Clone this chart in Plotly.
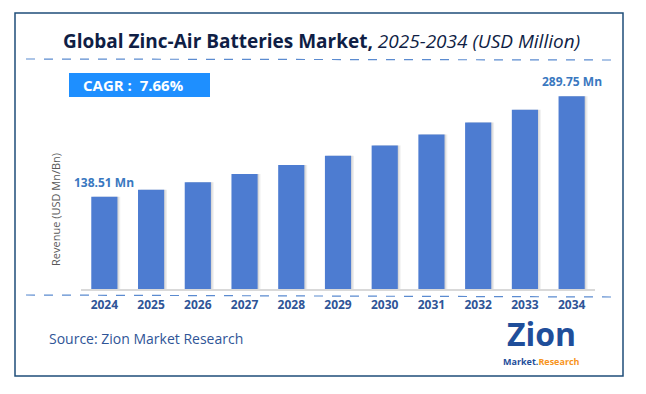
import plotly.graph_objects as go

years = ["2024", "2025", "2026", "2027", "2028", "2029", "2030", "2031", "2032", "2033", "2034"]
revenue = [138.51, 149.1, 160.5, 172.8, 186.1, 200.3, 215.7, 232.2, 250.0, 269.1, 289.75]
value_labels = ["138.51 Mn", "", "", "", "", "", "", "", "", "", "289.75 Mn"]

BAR = "#4D7CD1"
TXT = "#2F5597"
LBL = "#3A78C0"
FONT = "Open Sans"

fig = go.Figure()

# soft shadows on the right of each bar
for off, op in [(-0.22, 0.10), (-0.25, 0.14)]:
    fig.add_trace(go.Bar(
        x=years, y=revenue, width=0.56, offset=off,
        marker=dict(color=f"rgba(90,90,90,{op})", line=dict(width=0)),
        hoverinfo="skip", showlegend=False))

fig.add_trace(go.Bar(
    x=years, y=revenue, width=0.56, offset=-0.28,
    marker=dict(color=BAR, line=dict(width=0)),
    showlegend=False))

for i, (v, lab) in enumerate(zip(revenue, value_labels)):
    if lab:
        fig.add_annotation(x=i, y=v, text=f"<b>{lab}</b>", showarrow=False,
                           yanchor="bottom", yshift=4,
                           font=dict(family=FONT, size=12, color=LBL))

fig.update_layout(
    width=646, height=394,
    margin=dict(l=81, r=51, t=70, b=105),
    paper_bgcolor="white", plot_bgcolor="white",
    barmode="overlay",
    font=dict(family=FONT),
    xaxis=dict(
        type="category", showgrid=False, zeroline=False,
        showline=True, linecolor="#D9D9D9", linewidth=2,
        ticks="outside", ticklen=4, tickcolor="rgba(0,0,0,0)",
        tickfont=dict(family=FONT, size=12, color=TXT, weight="bold"),
        range=[-0.5, len(years) - 0.5],
        fixedrange=True),
    yaxis=dict(
        range=[0, 329], showgrid=False, zeroline=False, showticklabels=False,
        showline=False, fixedrange=True),
)

# outer border
fig.add_shape(type="rect", xref="paper", yref="paper",
              x0=(15 - 81) / 514, x1=(623 - 81) / 514,
              y0=(289 - 376) / 219, y1=(289 - 13) / 219,
              line=dict(color="#1F4E79", width=1.5), fillcolor="rgba(0,0,0,0)")

# dashed separators
fig.add_shape(type="line", xref="paper", yref="paper",
              x0=(26 - 81) / 514, x1=(613 - 81) / 514,
              y0=(289 - 59) / 219, y1=(289 - 60) / 219,
              line=dict(color="#5B8BD0", width=1.2, dash="dash"))
fig.add_shape(type="line", xref="paper", yref="paper",
              x0=(26 - 81) / 514, x1=(613 - 81) / 514,
              y0=(289 - 295) / 219, y1=(289 - 297) / 219,
              line=dict(color="#5B8BD0", width=1.2, dash="dash"))

# CAGR box
fig.add_shape(type="rect", xref="paper", yref="paper",
              x0=(69 - 81) / 514, x1=(210 - 81) / 514,
              y0=(289 - 97) / 219, y1=(289 - 73) / 219,
              line=dict(width=0), fillcolor="#1E8FFF")
fig.add_annotation(xref="paper", yref="paper",
                   x=(81 - 81) / 514, y=(289 - 85) / 219,
                   xanchor="left", yanchor="middle", showarrow=False,
                   text="<b>CAGR :  7.66%</b>",
                   font=dict(family=FONT, size=15, color="white"))

# title
fig.add_annotation(xref="paper", yref="paper",
                   x=(321 - 81) / 514, y=(289 - 41) / 219,
                   xanchor="center", yanchor="middle", showarrow=False,
                   text="<b>Global Zinc-Air Batteries Market,</b> <i>2025-2034 (USD Million)</i>",
                   font=dict(family=FONT, size=19, color="#0F1E45"))

# y axis title
fig.add_annotation(xref="paper", yref="paper",
                   x=(55 - 81) / 514, y=(289 - 210) / 219,
                   xanchor="center", yanchor="middle", showarrow=False,
                   textangle=-90, text="Revenue (USD Mn/Bn)",
                   font=dict(family=FONT, size=11, color="#595959"))

# source
fig.add_annotation(xref="paper", yref="paper",
                   x=(47 - 81) / 514, y=(289 - 338) / 219,
                   xanchor="left", yanchor="middle", showarrow=False,
                   text="Source: Zion Market Research",
                   font=dict(family=FONT, size=14, color=TXT))

# logo
fig.add_annotation(xref="paper", yref="paper",
                   x=(541 - 81) / 514, y=(289 - 333) / 219,
                   xanchor="center", yanchor="middle", showarrow=False,
                   text="<b>Zion</b>", borderpad=0,
                   font=dict(family=FONT, size=32, color="#1F4E9A"))
fig.add_annotation(xref="paper", yref="paper",
                   x=(541 - 81) / 514, y=(289 - 361) / 219,
                   xanchor="center", yanchor="middle", showarrow=False,
                   text="<b>Market.<span style='color:#F7941D'>Research</span></b>",
                   borderpad=0,
                   font=dict(family=FONT, size=9, color="#1F4E9A"))

fig.write_html("out.html", config={"displayModeBar": False},
               post_script="document.body.style.margin='0';")
